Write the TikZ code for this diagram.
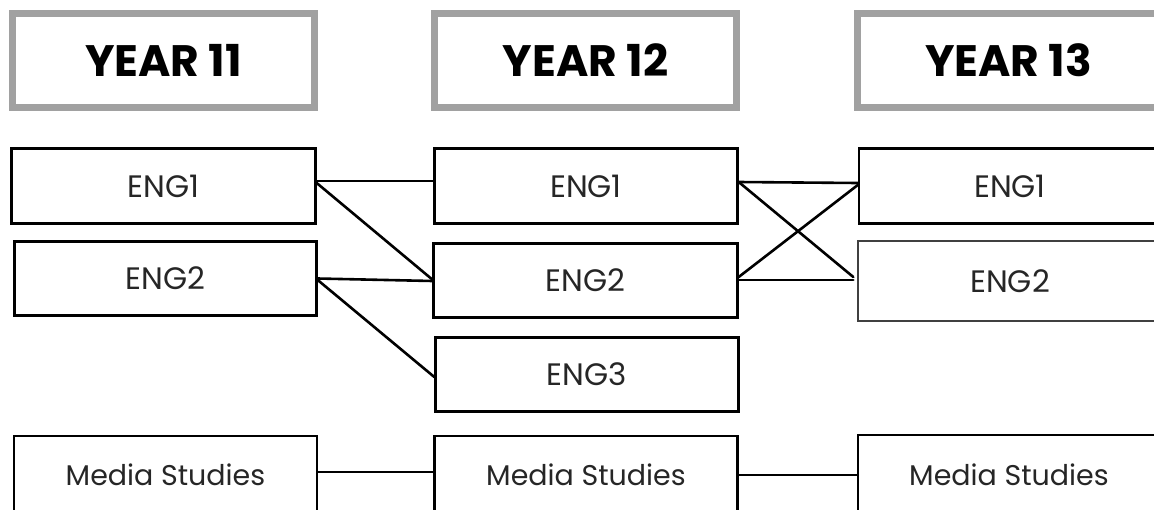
\documentclass[tikz,border=0pt]{standalone}
\usepackage{fontspec}
\setmainfont{Poppins}
\begin{document}
\begin{tikzpicture}[x=1pt,y=-1pt,
  yearbox/.style={draw=black!37, line width=7pt, minimum width=302pt, minimum height=94pt, inner sep=0pt, font=\fontsize{44}{50}\selectfont\bfseries, text=black},
  subj/.style={draw=black, line width=2.4pt, minimum width=303pt, minimum height=75pt, inner sep=0pt, font=\fontsize{31}{36}\selectfont, text=black!85},
  media/.style={subj, font=\fontsize{28.5}{33}\selectfont},
  link/.style={line width=2.6pt, line cap=round}]
\useasboundingbox (0,0) rectangle (1154,509);
\clip (0,0) rectangle (1154,509);
\node[yearbox] (y11) at (163.5,60.5) {YEAR 11};
\node[yearbox] (y12) at (585.5,60.5) {YEAR 12};
\node[yearbox] (y13) at (1008.5,60.5) {YEAR 13};
\node[subj, minimum width=304pt] (a1) at (163.5,186) {ENG1};
\node[subj, minimum width=302pt, minimum height=74pt] (a2) at (165.5,278.5) {ENG2};
\node[subj] (b1) at (586,186) {ENG1};
\node[subj, minimum width=304pt, minimum height=74pt] (b2) at (585.5,280.5) {ENG2};
\node[subj, minimum height=74pt] (b3) at (587,374.5) {ENG3};
\node[subj, minimum width=302pt] (c1) at (1010,186) {ENG1};
\node[subj, draw=black!75, line width=1.4pt, minimum width=304pt, minimum height=80pt] (c2) at (1010,281) {ENG2};
\node[media, minimum height=78pt] (am) at (165.5,475) {Media Studies};
\node[media, minimum height=78pt] (bm) at (586,475) {Media Studies};
\node[media, minimum width=302pt, minimum height=80pt] (cm) at (1009,475) {Media Studies};
\draw[link] ([yshift=5pt]a1.east) -- ([yshift=5pt]b1.west);
\draw[link] ([yshift=3pt]a1.east) -- ([yshift=1pt]b2.west);
\draw[link] (a2.east) -- ([yshift=-0.5pt]b2.west);
\draw[link] ([yshift=-1.5pt]a2.east) -- ([yshift=-2.5pt]b3.west);
\draw[link] ([yshift=4pt]b1.east) -- ([yshift=3pt]c1.west);
\draw[link] ([yshift=4pt]b1.east) -- ([xshift=-4pt,yshift=4pt]c2.west);
\draw[link] ([yshift=3.5pt]b2.east) -- ([yshift=1pt]c1.west);
\draw[link] ([yshift=0.5pt]b2.east) -- ([xshift=-4pt,yshift=1pt]c2.west);
\draw[link] ([yshift=3pt]am.east) -- ([yshift=3pt]bm.west);
\draw[link] (bm.east) -- (cm.west);
\end{tikzpicture}
\end{document}
